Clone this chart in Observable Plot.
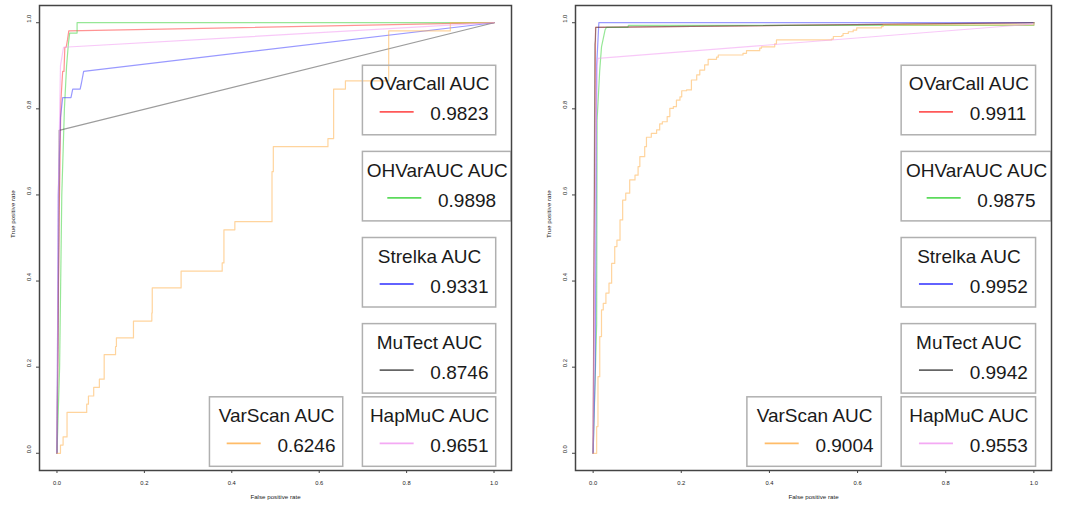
<!DOCTYPE html>
<html><head><meta charset="utf-8">
<script src="https://cdn.jsdelivr.net/npm/d3@7"></script>
<script src="https://cdn.jsdelivr.net/npm/@observablehq/plot@0.6"></script>
<style>
body{margin:0;background:#fff;}
#wrap{position:relative;width:1067px;height:506px;overflow:hidden;font-family:"Liberation Sans",Arial,sans-serif;}
.panel{position:absolute;top:0;}
</style></head><body>
<div id="wrap"><div class="panel" id="p1" style="left:0px"></div><div class="panel" id="p2" style="left:530px"></div></div>
<script>
// ---- data ----
const methods = ["OVarCall", "OHVarAUC", "Strelka", "MuTect", "VarScan", "HapMuC"];
const auc1 = [0.9823, 0.9898, 0.9331, 0.8746, 0.6246, 0.9651];
const auc2 = [0.9911, 0.9875, 0.9952, 0.9942, 0.9004, 0.9553];
const xTicks = [0, 0.2, 0.4, 0.6, 0.8, 1.0];
const yTicks = [0, 0.2, 0.4, 0.6, 0.8, 1.0];
const xLabel = "False positive rate";
const yLabel = "True positive rate";

// panel 1 ROC curves: [fpr, tpr]
const ovarcall1 = [[0,0],[0.005,0.55],[0.009,0.82],[0.013,0.887],[0.016,0.887],[0.018,0.943],[0.021,0.943],[0.024,0.96],[0.027,0.981],[1,1]];
const ohvarauc1 = [[0,0],[0.006,0.2],[0.011,0.6],[0.017,0.8],[0.022,0.9],[0.026,0.95],[0.029,0.976],[0.046,0.976],[0.046,1],[1,1]];
const strelka1 = [[0,0],[0.003,0.6],[0.008,0.78],[0.013,0.826],[0.032,0.826],[0.036,0.846],[0.053,0.846],[0.056,0.86],[0.061,0.887],[1,1]];
const mutect1 = [[0,0],[0.004,0.5],[0.005,0.75],[1,1]];
const varscan1 = [[0,0],[0.008,0.019],[0.014,0.038],[0.023,0.095],[0.068,0.114],[0.072,0.133],[0.084,0.153],[0.097,0.172],[0.108,0.229],[0.134,0.248],[0.136,0.268],[0.175,0.307],[0.217,0.326],[0.218,0.384],[0.284,0.423],[0.378,0.442],[0.382,0.519],[0.407,0.538],[0.492,0.654],[0.495,0.712],[0.62,0.731],[0.633,0.846],[0.66,0.865],[0.759,0.981],[0.90,1],[1,1]];
const hapmuc1 = [[0,0],[0.003,0.6],[0.008,0.9],[0.015,0.943],[1,1]];

// panel 2 ROC curves: [fpr, tpr]
const ovarcall2 = [[0,0],[0.005,0.9],[0.0055,0.989],[1,1]];
const ohvarauc2 = [[0,0],[0.008,0.3],[0.009,0.774],[0.015,0.89],[0.019,0.944],[0.027,0.983],[0.03,0.989],[0.079,0.989],[0.08,0.994],[1,0.994],[1,1]];
const strelka2 = [[0,0],[0.005,0.2],[0.008,0.9],[0.013,1],[1,1]];
const mutect2 = [[0,0],[0.004,0.95],[0.005,0.96],[0.006,0.989],[1,1]];
const varscan2 = [[0,0],[0.004,0],[0.008,0.062],[0.011,0.178],[0.015,0.271],[0.019,0.333],[0.023,0.348],[0.029,0.372],[0.036,0.395],[0.042,0.441],[0.049,0.480],[0.054,0.495],[0.061,0.542],[0.067,0.588],[0.074,0.604],[0.083,0.635],[0.095,0.646],[0.102,0.666],[0.106,0.689],[0.117,0.712],[0.121,0.734],[0.132,0.743],[0.144,0.751],[0.151,0.765],[0.157,0.770],[0.168,0.782],[0.174,0.801],[0.182,0.805],[0.189,0.820],[0.197,0.828],[0.201,0.842],[0.212,0.844],[0.223,0.867],[0.235,0.879],[0.242,0.890],[0.253,0.902],[0.261,0.915],[0.280,0.920],[0.284,0.925],[0.340,0.929],[0.348,0.935],[0.378,0.941],[0.382,0.944],[0.412,0.951],[0.416,0.960],[0.541,0.962],[0.545,0.968],[0.564,0.970],[0.567,0.975],[0.579,0.979],[0.590,0.983],[0.598,0.988],[0.654,0.991],[0.658,0.995],[1,1]];
const hapmuc2 = [[0,0],[0.004,0.5],[0.009,0.9],[0.011,0.917],[1,0.997]];

// ---- styles / layout ----
const colors = ["#ff3b3b", "#3fd43f", "#4646ff", "#4a4a4a", "#ffb04d", "#f29af2"];
const drawOrder = [0, 1, 2, 3, 4, 5];
const legendLeft = [0.70, 0.70, 0.70, 0.70, 0.35, 0.70];
const legendTop = [0.90, 0.70, 0.50, 0.30, 0.13, 0.13];
const legendWidth = [0.305, 0.34, 0.305, 0.305, 0.305, 0.305];

function panel(el, width, ml, mr, curves, aucs) {
  const height = 506, mt = 5, mb = 36;
  const kx = (width - ml - mr) / 1.08, ky = (height - mt - mb) / 1.08;
  const fmt = d3.format(".1f");
  const rows = methods.map((m, i) => {
    const x1 = legendLeft[i], x2 = legendLeft[i] + legendWidth[i];
    const cx = (x1 + x2) / 2, top = legendTop[i];
    return {
      method: m, auc: aucs[i], color: colors[i],
      x1, x2, top, bottom: top - 69.5 / ky, cx,
      titleY: top - 24.7 / ky,
      lx1: cx - 49.9 / kx, lx2: cx - 15.9 / kx, ly: top - 46 / ky,
      vx: cx + 0.8 / kx, vy: top - 54.7 / ky
    };
  });
  const lineMarks = drawOrder.map(i => Plot.line(curves[i], {
    x: d => d[0], y: d => d[1], stroke: colors[i], strokeOpacity: 0.55, strokeWidth: 1.2,
    curve: methods[i] === "VarScan" ? "step-after" : "linear"
  }));
  const chart = Plot.plot({
    width, height, marginLeft: ml, marginRight: mr, marginTop: mt, marginBottom: mb,
    x: {domain: [-0.04, 1.04], axis: null},
    y: {domain: [-0.04, 1.04], axis: null},
    style: {fontFamily: "'Liberation Sans', Arial, sans-serif", color: "#222", background: "white"},
    marks: [
      Plot.axisX({ticks: xTicks, tickFormat: fmt, tickSize: 3, tickPadding: 7, fontSize: 5.8, label: null, stroke: "#444"}),
      Plot.axisY({ticks: yTicks, tickSize: 3, tickFormat: () => "", label: null, stroke: "#444"}),
      Plot.text(yTicks, {y: d => d, text: d => fmt(d), frameAnchor: "left", dx: -10, rotate: -90, fontSize: 5.8, fill: "#222"}),
      Plot.text([xLabel], {text: d => d, frameAnchor: "bottom", dy: 28, fontSize: 6.2, fill: "#222"}),
      Plot.text([yLabel], {text: d => d, frameAnchor: "left", dx: -26, rotate: -90, fontSize: 6.2, fill: "#222"}),
      ...lineMarks,
      Plot.rect(rows, {x1: "x1", x2: "x2", y1: "bottom", y2: "top", fill: "none", stroke: "#b0b0b0", strokeWidth: 1.5}),
      Plot.text(rows, {x: "cx", y: "titleY", text: d => d.method + " AUC", fontSize: 19, lineAnchor: "bottom", fill: "#1a1a1a"}),
      Plot.link(rows, {x1: "lx1", x2: "lx2", y1: "ly", y2: "ly", stroke: d => d.color, strokeWidth: 1.8, strokeOpacity: 0.85}),
      Plot.text(rows, {x: "vx", y: "vy", text: d => d.auc.toFixed(4), textAnchor: "start", fontSize: 19, lineAnchor: "bottom", fill: "#1a1a1a"}),
      Plot.frame({stroke: "#444", strokeWidth: 1.5})
    ]
  });
  document.getElementById(el).appendChild(chart);
}

panel("p1", 530, 39, 19, [ovarcall1, ohvarauc1, strelka1, mutect1, varscan1, hapmuc1], auc1);
panel("p2", 537, 45, 16, [ovarcall2, ohvarauc2, strelka2, mutect2, varscan2, hapmuc2], auc2);
</script>
</body></html>
